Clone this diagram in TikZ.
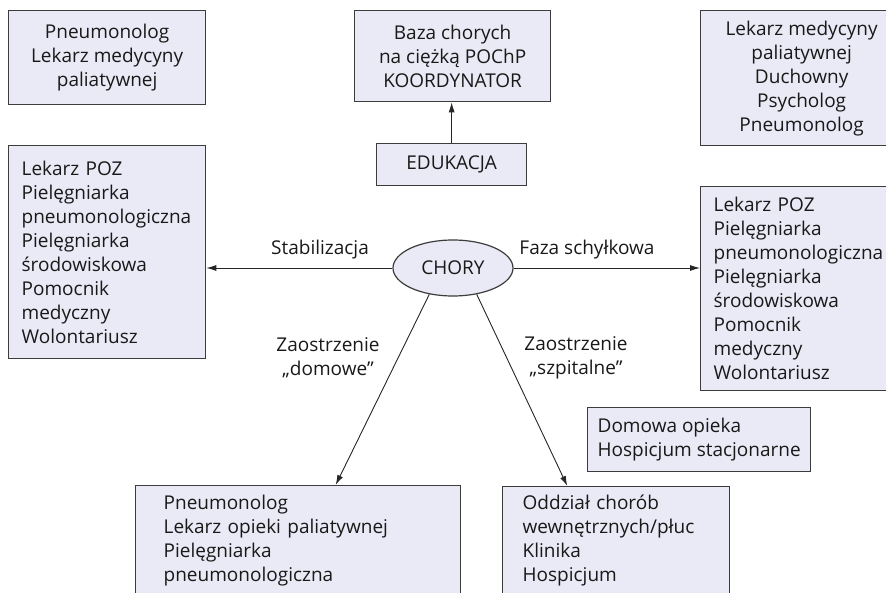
\documentclass[tikz,border=0pt]{standalone}
\usepackage{fontspec}
\setmainfont{Open Sans}
\usetikzlibrary{arrows.meta, shapes.geometric, positioning, calc}
\definecolor{boxfill}{RGB}{234,234,246}
\definecolor{boxline}{RGB}{60,60,60}

\begin{document}
\begin{tikzpicture}[x=1pt, y=-1pt,
    every node/.style={font=\fontsize{19}{24}\selectfont, text=black!90},
    box/.style={draw=boxline, line width=1.3pt, fill=boxfill, anchor=north west, inner sep=0pt},
    cbox/.style={box, align=center},
    lbox/.style={box, align=left},
    arr/.style={-{Latex[length=10pt, width=6pt]}, line width=0.9pt, black!85},
    lbl/.style={align=center}]
        \useasboundingbox (0,0) rectangle (886,593);
        \clip (0,0) rectangle (886,593);

        % Top row
        \node[cbox, minimum width=197pt, minimum height=94pt] (pulmo) at (8,10)
            {Pneumonolog\\Lekarz medycyny\\paliatywnej};
        \node[cbox, minimum width=196pt, minimum height=91pt] (baza) at (354,10)
            {Baza chorych\\na ciężką POChP\\KOORDYNATOR};
        \node[cbox, minimum width=150pt, minimum height=42pt] (edu) at (376,143) {EDUKACJA};
        \node[cbox, minimum width=202pt, minimum height=135pt] (palia) at (700,10)
            {Lekarz medycyny\\paliatywnej\\Duchowny\\Psycholog\\Pneumonolog};

        % Patient
        \node[ellipse, draw=boxline, line width=1.2pt, fill=boxfill, minimum width=120pt,
            minimum height=56pt, inner sep=0pt] (chory) at (453,268) {CHORY};

        % Side teams
        \node[lbox, text width=171pt, inner xsep=13pt, minimum height=213pt] (stab) at (8,145)
            {Lekarz POZ\\Pielęgniarka\\pneumonologiczna\\Pielęgniarka\\środowiskowa\\Pomocnik\\medyczny\\Wolontariusz};
        \node[lbox, text width=176pt, inner xsep=13pt, minimum height=204pt] (schylek) at (700,186)
            {Lekarz POZ\\Pielęgniarka\\pneumonologiczna\\Pielęgniarka\\środowiskowa\\Pomocnik\\medyczny\\Wolontariusz};
        \node[lbox, inner xsep=10pt, minimum height=64pt] (opieka) at (587,407)
            {Domowa opieka\\Hospicjum stacjonarne};

        % Bottom row
        \node[lbox, text width=269pt, inner xsep=28pt, minimum height=110pt] (domowe) at (135,485)
            {Pneumonolog\\Lekarz opieki paliatywnej\\Pielęgniarka\\pneumonologiczna};
        \node[lbox, text width=187pt, inner xsep=20pt, minimum height=108pt] (szpital) at (502,486)
            {Oddział chorób\\wewnętrznych/płuc\\Klinika\\Hospicjum};

        % Connectors
        \draw[arr] (edu.north) -- (edu.north |- baza.south);
        \draw[arr] (chory.west) -- (chory.west -| stab.east);
        \draw[arr] (chory.east) -- (chory.east -| schylek.west);
        \draw[arr] (chory.228) -- ($(domowe.north west)!0.615!(domowe.north east)$);
        \draw[arr] (chory.-48) -- ($(szpital.north west)!0.286!(szpital.north east)$);

        % Labels
        \node[lbl] (lstab) at (320,250) {Stabilizacja};
        \node[lbl] (lschylek) at (587,250) {Faza schyłkowa};
        \node[lbl] (ldom) at (328,358) {Zaostrzenie\\„domowe”};
        \node[lbl] (lszp) at (576,358) {Zaostrzenie\\„szpitalne”};
    \end{tikzpicture}
\end{document}
